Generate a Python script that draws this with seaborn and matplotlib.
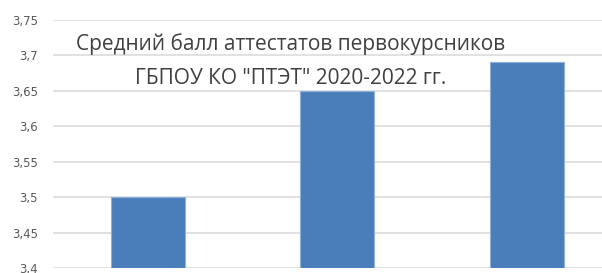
import numpy as np
import pandas as pd
import matplotlib as mpl
mpl.use("Agg")
import matplotlib.pyplot as plt
import seaborn as sb
from matplotlib.ticker import FixedLocator, FixedFormatter

sb.set_style("white")

years = ["2020", "2021", "2022"]
scores = [3.50, 3.65, 3.69]
ytick_vals = [3.4, 3.45, 3.5, 3.55, 3.6, 3.65, 3.7, 3.75]
ytick_labels = ["3,4", "3,45", "3,5", "3,55", "3,6", "3,65", "3,7", "3,75"]
title_lines = ["Средний балл аттестатов первокурсников",
               "ГБПОУ КО \"ПТЭТ\" 2020-2022 гг."]

data = pd.DataFrame({"year": years, "score": scores})

fig = plt.figure(figsize=(6.02, 2.73), dpi=100)
ax = fig.add_axes([0.088, 0.018, 0.912, 0.909])

sb.barplot(x="year", y="score", data=data, color="#4a7ebb", saturation=1,
           width=0.39, edgecolor="#8fb0d8", linewidth=0.8, ax=ax)

ax.set_ylim(3.4, 3.75)
ax.set_xlim(-0.5, 2.395)
ax.yaxis.set_major_locator(FixedLocator(ytick_vals))
ax.yaxis.set_major_formatter(FixedFormatter(ytick_labels))
ax.tick_params(axis="y", length=0, pad=11, labelsize=8.5, labelcolor="#595959")
ax.set_xticks([])
ax.set_xlabel("")
ax.set_ylabel("")
ax.grid(axis="y", color="#d9d9d9", linewidth=1.1)
ax.set_axisbelow(True)
for s in ax.spines.values():
    s.set_visible(False)

ax.text(0.753, 3.716, title_lines[0], ha="center", va="center",
        fontsize=15, color="#404040", family="Open Sans")
ax.text(0.753, 3.668, title_lines[1], ha="center", va="center",
        fontsize=15, color="#404040", family="Open Sans")

fig.savefig("out.png", dpi=100)
